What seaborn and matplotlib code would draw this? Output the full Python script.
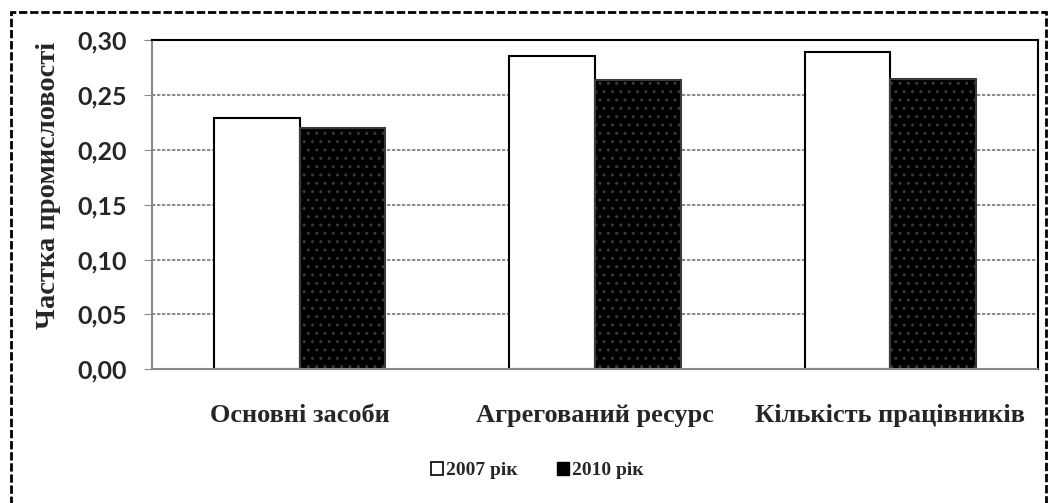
import numpy as np
import pandas as pd
import matplotlib.pyplot as plt
import seaborn as sns
from matplotlib.patches import Rectangle, Patch

# ── Data ──────────────────────────────────────────────
categories = ["Основні засоби", "Агрегований ресурс", "Кількість працівників"]
years = ["2007 рік", "2010 рік"]
share_2007 = [0.229, 0.286, 0.289]
share_2010 = [0.220, 0.264, 0.265]
yticks = [0.00, 0.05, 0.10, 0.15, 0.20, 0.25, 0.30]

df = pd.DataFrame({
    "category": categories * 2,
    "year": [years[0]] * 3 + [years[1]] * 3,
    "share": share_2007 + share_2010,
})

# ── Setup ──────────────────────────────────────────────
sns.set_style("white")
plt.rcParams['font.family'] = ['Liberation Serif', 'DejaVu Serif']

fig = plt.figure(figsize=(10.56, 5.03), dpi=100)
ax = fig.add_axes([0.144, 0.266, 0.839, 0.654])

sns.barplot(data=df, x="category", y="share", hue="year",
            palette=["white", "black"], width=0.58, gap=0,
            edgecolor="black", linewidth=1.5, ax=ax, legend=False)

# dotted texture on the dark bars
for bar in ax.patches[3:6]:
    bar.set_hatch("..")
    bar.set_edgecolor("#3a3a3a")

ax.set_ylim(0, 0.30)
ax.set_yticks(yticks)
ax.set_yticklabels([f"{v:.2f}".replace(".", ",") for v in yticks],
                   fontfamily="Lato", fontweight="bold", fontsize=18)
ax.yaxis.grid(True, color="#777777", linestyle=(0, (2, 1)), linewidth=1.2)
ax.set_axisbelow(True)
ax.tick_params(axis="y", length=6, color="#888888", left=True, pad=12)
ax.tick_params(axis="x", length=0, pad=25)
for lbl in ax.get_xticklabels():
    lbl.set_fontsize(19)
    lbl.set_fontweight("bold")

for side in ["top", "right"]:
    ax.spines[side].set_color("black")
    ax.spines[side].set_linewidth(1.5)
for side in ["left", "bottom"]:
    ax.spines[side].set_color("#888888")
    ax.spines[side].set_linestyle((0, (2, 1)))
    ax.spines[side].set_linewidth(1.5)

ax.set_xlabel("")
ax.set_ylabel("Частка промисловості", fontsize=20.5, fontweight="bold")
ax.yaxis.set_label_coords(-0.103, 0.56)

handles = [Patch(facecolor="white", edgecolor="black", linewidth=1.2),
           Patch(facecolor="black", edgecolor="black")]
fig.legend(handles, years, loc="center", bbox_to_anchor=(0.509, 0.064),
           ncol=2, frameon=False, handlelength=0.6, handleheight=0.6,
           handletextpad=0.15, columnspacing=2.05,
           prop={"size": 14, "weight": "bold"})

# outer dashed frame
fig.patches.append(Rectangle((0.01, -0.02), 0.981, 0.997, transform=fig.transFigure,
                             fill=False, edgecolor="black", linewidth=2,
                             linestyle=(0, (3, 1))))

fig.savefig("out.png", dpi=100)
plt.close()
